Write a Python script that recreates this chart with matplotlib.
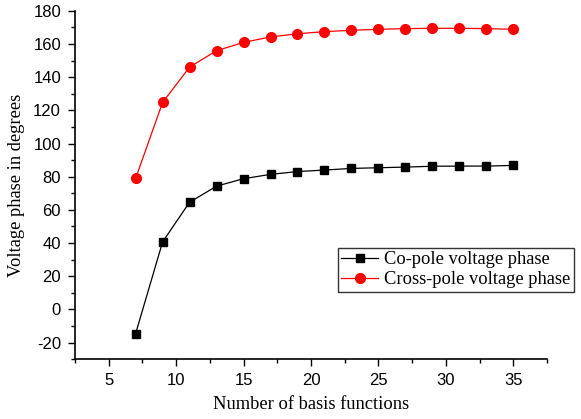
import matplotlib.pyplot as plt
from matplotlib.ticker import MultipleLocator

plt.rcParams['axes.unicode_minus'] = False

# data
n_basis = [7, 9, 11, 13, 15, 17, 19, 21, 23, 25, 27, 29, 31, 33, 35]
co_pole = [-14.6, 40.7, 64.6, 74.3, 78.8, 81.4, 83.1, 84.0, 85.0, 85.4, 85.8, 86.3, 86.4, 86.4, 86.8]
cross_pole = [79.0, 124.8, 146.1, 156.0, 161.0, 164.3, 166.2, 167.5, 168.3, 168.9, 169.3, 169.5, 169.5, 169.3, 168.9]

serif = ['Liberation Serif', 'DejaVu Serif']
sans = ['Liberation Sans', 'DejaVu Sans']

fig = plt.figure(figsize=(5.81, 4.19), dpi=100)
ax = fig.add_axes([0.129, 0.143, 0.8125, 0.831])

ax.plot(n_basis, co_pole, color='black', lw=0.9, marker='s', markersize=6,
        label='Co-pole voltage phase')
ax.plot(n_basis, cross_pole, color='red', lw=0.9, marker='o', markersize=7,
        label='Cross-pole voltage phase')

ax.set_xlim(2.5, 37.5)
ax.set_ylim(-30, 180)
ax.xaxis.set_major_locator(MultipleLocator(5))
ax.xaxis.set_minor_locator(MultipleLocator(2.5))
ax.yaxis.set_major_locator(MultipleLocator(20))
ax.yaxis.set_minor_locator(MultipleLocator(10))

ax.spines['top'].set_visible(False)
ax.spines['right'].set_visible(False)
ax.spines['left'].set_linewidth(1.2)
ax.spines['bottom'].set_linewidth(1.2)
ax.tick_params(which='major', direction='out', length=5, width=1, pad=5)
ax.tick_params(which='minor', direction='out', length=3, width=1)
for lab in ax.get_xticklabels() + ax.get_yticklabels():
    lab.set_family(sans)
    lab.set_fontsize(12)

ax.set_xlabel('Number of basis functions', family=serif, fontsize=13.3, labelpad=6)
ax.set_ylabel('Voltage phase in degrees', family=serif, fontsize=13.3, labelpad=6)

leg = fig.legend(loc='upper left', bbox_to_anchor=(0.581, 0.409),
                 prop={'family': serif, 'size': 13.3}, frameon=True, fancybox=False,
                 edgecolor='black', handlelength=2.0, handletextpad=0.3,
                 borderpad=0.2, labelspacing=0.15, borderaxespad=0)
leg.get_frame().set_linewidth(1.0)

fig.savefig('out.png', dpi=100)
